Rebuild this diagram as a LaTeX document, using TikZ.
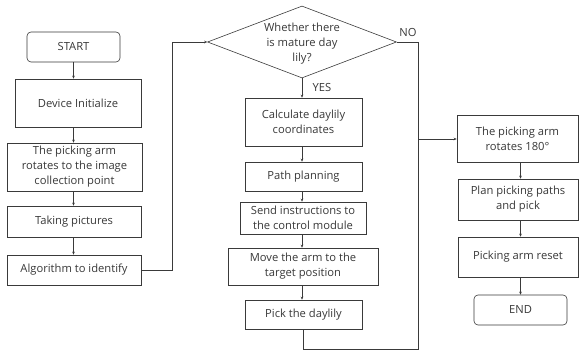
\documentclass[tikz,border=0pt]{standalone}
\usepackage{fontspec}
\setmainfont{Open Sans}
\usetikzlibrary{shapes.geometric,arrows.meta}
\definecolor{ln}{HTML}{3A3A3A}
\definecolor{tx}{HTML}{383838}
\begin{document}
\begin{tikzpicture}[x=1pt,y=-1pt,
  every node/.style={text=tx,font=\fontsize{11.2}{15}\selectfont,align=center,inner sep=0pt},
  box/.style={draw=ln,line width=0.6pt,rectangle},
  term/.style={draw=ln,line width=0.6pt,rectangle,rounded corners=4pt},
  arr/.style={draw=ln,line width=0.6pt,-{Stealth[length=3pt,width=2.6pt]}},
  ln/.style={draw=ln,line width=0.6pt}]
\path[use as bounding box] (0,0) rectangle (580,352);
% left column
\node[term,minimum width=93pt,minimum height=30pt] (start) at (73.5,47) {START};
\node[box,minimum width=126pt,minimum height=48pt] (init) at (78,103) {Device Initialize};
\node[box,minimum width=135pt,minimum height=48pt] (arm) at (74.5,167) {The picking arm\\rotates to the image\\collection point};
\node[box,minimum width=134pt,minimum height=31pt] (take) at (74,221.5) {Taking pictures};
\node[box,minimum width=134pt,minimum height=30pt] (algo) at (74,270) {Algorithm to identify};
% middle column
\node[diamond,draw=ln,line width=0.6pt,minimum width=189pt,minimum height=72pt,aspect=2.625] (dia) at (302,42) {};
\node (diat) at (302,44) {Whether there\\is mature day\\lily?};
\node[box,minimum width=117pt,minimum height=48pt] (calc) at (303.5,122) {Calculate daylily\\coordinates};
\node[box,minimum width=117pt,minimum height=29pt] (path) at (303.5,176.5) {Path planning};
\node[box,minimum width=126pt,minimum height=32pt] (send) at (303,218) {Send instructions to\\the control module};
\node[box,minimum width=150pt,minimum height=37pt] (move) at (303,266.5) {Move the arm to the\\target position};
\node[box,minimum width=117pt,minimum height=29pt] (pick) at (303.5,314.5) {Pick the daylily};
% right column
\node[box,minimum width=121pt,minimum height=47pt] (rot) at (517.5,139) {The picking arm\\rotates 180°};
\node[box,minimum width=120pt,minimum height=41pt] (plan) at (518,199.5) {Plan picking paths\\and pick};
\node[box,minimum width=120pt,minimum height=40pt] (reset) at (518,257) {Picking arm reset};
\node[term,minimum width=93pt,minimum height=30pt] (end) at (520.5,310) {END};
% labels
\node (yes) at (322,88) {YES};
\node (no) at (408,32) {NO};
% coordinates
\coordinate (c1) at (172,42);
\coordinate (c2) at (418,42);
\coordinate (c3) at (418,349);
\coordinate (c4) at (303.5,349);
% connectors
\draw[arr] (start.south) -- (start.south |- init.north);
\draw[arr] (start.south |- init.south) -- (start.south |- arm.north);
\draw[arr] (start.south |- arm.south) -- (start.south |- take.north);
\draw[arr] (start.south |- take.south) -- (start.south |- algo.north);
\draw[arr] (algo.east) -| (c1) -- (dia.west);
\draw[arr] (dia.south) -- (dia.south |- calc.north);
\draw[arr] (dia.south |- calc.south) -- (dia.south |- path.north);
\draw[arr] (dia.south |- path.south) -- (dia.south |- send.north);
\draw[arr] (dia.south |- send.south) -- (dia.south |- move.north);
\draw[arr] (dia.south |- move.south) -- (dia.south |- pick.north);
\draw[ln] (dia.east) -- (c2) -- (c3) -- (c4) -- (pick.south);
\draw[arr] (c2 |- rot.west) -- (rot.west);
\draw[arr] (end.north |- rot.south) -- (end.north |- plan.north);
\draw[arr] (end.north |- plan.south) -- (end.north |- reset.north);
\draw[arr] (end.north |- reset.south) -- (end.north);
\end{tikzpicture}
\end{document}
